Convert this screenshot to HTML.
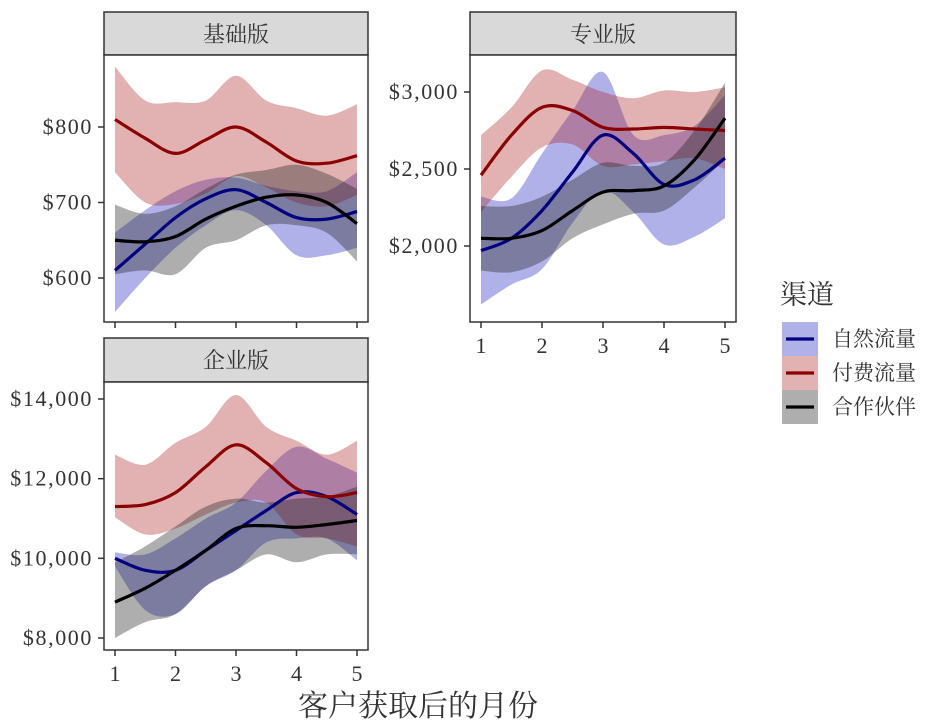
<!DOCTYPE html>
<html><head><meta charset="utf-8"><style>
body{margin:0;background:#fff;width:929px;height:726px;overflow:hidden}
svg{display:block}
text{font-family:"Liberation Serif","Noto Serif CJK SC","Noto Sans CJK SC",serif;fill:#333}
</style></head><body>
<svg id="chart" width="929" height="726" viewBox="0 0 929 726" xmlns="http://www.w3.org/2000/svg"></svg>
<script>
const months=[1,1.5,2,2.5,3,3.5,4,4.5,5];
const xTicks=[1,2,3,4,5];
const panelNames=["基础版","专业版","企业版"];
const seriesNames=["自然流量","付费流量","合作伙伴"];
// 基础版
const basicOrganic=[610,645,680,705,717,700,680,678,688];
const basicOrganicHi=[660,690,715,730,733,722,715,715,740];
const basicOrganicLo=[555,600,640,670,690,670,630,630,640];
const basicPaid=[810,785,765,783,800,780,755,752,762];
const basicPaidHi=[880,835,833,835,868,835,825,815,830];
const basicPaidLo=[740,700,698,712,735,720,700,695,710];
const basicPartner=[650,648,655,678,695,707,710,700,672];
const basicPartnerHi=[697,685,695,718,737,743,750,738,718];
const basicPartnerLo=[605,610,605,640,650,670,670,660,622];
// 专业版
const proOrganic=[1970,2050,2230,2480,2720,2600,2400,2430,2570];
const proOrganicHi=[2320,2310,2600,2880,3130,2720,2720,2780,2980];
const proOrganicLo=[1620,1750,1850,2150,2360,2220,2010,2060,2180];
const proPaid=[2460,2720,2900,2880,2770,2760,2770,2760,2750];
const proPaidHi=[2720,2900,3140,3080,3000,2960,3010,3000,3030];
const proPaidLo=[2220,2450,2640,2660,2520,2530,2550,2570,2500];
const proPartner=[2050,2050,2100,2230,2350,2360,2390,2560,2830];
const proPartnerHi=[2260,2260,2320,2430,2540,2520,2540,2750,3060];
const proPartnerLo=[1840,1830,1900,2050,2140,2210,2230,2380,2560];
// 企业版
const entOrganic=[10000,9700,9700,10200,10700,11200,11650,11550,11100];
const entOrganicHi=[10150,10100,10500,11000,11400,12200,12800,12500,12150];
const entOrganicLo=[9800,8700,8600,9300,9700,10400,10500,10500,9950];
const entPaid=[11300,11350,11650,12300,12850,12400,11750,11550,11650];
const entPaidHi=[12600,12350,12900,13300,14100,13300,12950,12600,12950];
const entPaidLo=[11030,10600,10750,11100,11400,11400,10600,10500,10300];
const entPartner=[8900,9250,9700,10200,10750,10820,10780,10850,10950];
const entPartnerHi=[9900,10300,10800,11300,11500,11400,11500,11550,11800];
const entPartnerLo=[8000,8400,8600,9300,9700,10100,9900,10100,10100];
const basicTicks=[600,700,800];
const proTicks=[2000,2500,3000];
const entTicks=[8000,10000,12000,14000];

const NS="http://www.w3.org/2000/svg";
const svg=document.getElementById('chart');
function mk(tag,attrs,parent){const e=document.createElementNS(NS,tag);for(const k in attrs)e.setAttribute(k,attrs[k]);(parent||svg).appendChild(e);return e;}
const fillCols=["rgba(50,50,200,0.38)","rgba(170,30,30,0.34)","rgba(30,30,30,0.36)"];
const lineCols=["#000080","#8b0000","#000000"];
function smooth(pts){let d="";for(let i=0;i<pts.length-1;i++){const p0=pts[Math.max(i-1,0)],p1=pts[i],p2=pts[i+1],p3=pts[Math.min(i+2,pts.length-1)];
const c1=[p1[0]+(p2[0]-p0[0])/6,p1[1]+(p2[1]-p0[1])/6],c2=[p2[0]-(p3[0]-p1[0])/6,p2[1]-(p3[1]-p1[1])/6];
d+=" C"+c1[0].toFixed(1)+","+c1[1].toFixed(1)+" "+c2[0].toFixed(1)+","+c2[1].toFixed(1)+" "+p2[0].toFixed(1)+","+p2[1].toFixed(1);}return d;}
function fmt(v){return "$"+v.toLocaleString("en-US");}

const panels=[
 {name:panelNames[0],x0:104,x1:368,sy:12,top:55,bot:322,vA:800,yA:127,vB:600,yB:278,ticks:basicTicks,xlab:false,
  s:[[basicOrganic,basicOrganicHi,basicOrganicLo],[basicPaid,basicPaidHi,basicPaidLo],[basicPartner,basicPartnerHi,basicPartnerLo]],key:"basic"},
 {name:panelNames[1],x0:470,x1:736,sy:12,top:55,bot:322,vA:3000,yA:92,vB:2000,yB:246,ticks:proTicks,xlab:true,
  s:[[proOrganic,proOrganicHi,proOrganicLo],[proPaid,proPaidHi,proPaidLo],[proPartner,proPartnerHi,proPartnerLo]],key:"pro"},
 {name:panelNames[2],x0:104,x1:368,sy:338,top:382,bot:650,vA:14000,yA:399,vB:8000,yB:638,ticks:entTicks,xlab:true,
  s:[[entOrganic,entOrganicHi,entOrganicLo],[entPaid,entPaidHi,entPaidLo],[entPartner,entPartnerHi,entPartnerLo]],key:"enterprise"}
];
panels.forEach(p=>{
 const g=mk('g',{});
 
 
 const xs=m=>p.x0+11+(m-1)*(p.x1-p.x0-22)/4;
 const ys=v=>p.yA+(v-p.vA)*(p.yB-p.yA)/(p.vB-p.vA);
 const strip=mk('rect',{x:p.x0,y:p.sy,width:p.x1-p.x0,height:p.top-p.sy,fill:"#d9d9d9",stroke:"#333","stroke-width":1.5},g);
 
 
 const st=mk('text',{x:(p.x0+p.x1)/2,y:p.sy+30,"text-anchor":"middle","font-size":22,fill:"#1a1a1a"},g);st.textContent=p.name;
 
 
 mk('rect',{x:p.x0,y:p.top,width:p.x1-p.x0,height:p.bot-p.top,fill:"#fff"},g);
 p.s.forEach((ser,i)=>{
  const hi=months.map((m,k)=>[xs(m),ys(ser[1][k])]);
  const lo=months.map((m,k)=>[xs(m),ys(ser[2][k])]).reverse();
  const band=mk('path',{d:"M"+hi[0][0]+","+hi[0][1]+smooth(hi)+" L"+lo[0][0]+","+lo[0][1]+smooth(lo)+"Z",fill:fillCols[i]},g);
  
  
 });
 p.s.forEach((ser,i)=>{
  const pts=months.map((m,k)=>[xs(m),ys(ser[0][k])]);
  const ln=mk('path',{d:"M"+pts[0][0]+","+pts[0][1]+smooth(pts),fill:"none",stroke:lineCols[i],"stroke-width":3.2},g);
  
  
 });
 mk('rect',{x:p.x0,y:p.top,width:p.x1-p.x0,height:p.bot-p.top,fill:"none",stroke:"#333","stroke-width":1.5},g);
 p.ticks.forEach(t=>{
  const y=ys(t);
  mk('line',{x1:p.x0-6,x2:p.x0,y1:y,y2:y,stroke:"#333","stroke-width":1.5},g);
  const tl=mk('text',{x:p.x0-11,y:y+7,"text-anchor":"end","font-size":22,"letter-spacing":"1.6"},g);tl.textContent=fmt(t);
  
  
 });
 xTicks.forEach(t=>{
  const x=xs(t);
  mk('line',{x1:x,x2:x,y1:p.bot,y2:p.bot+6,stroke:"#333","stroke-width":1.5},g);
  if(p.xlab){const tl=mk('text',{x:x,y:p.bot+31,"text-anchor":"middle","font-size":22},g);tl.textContent=t;
  
  }
 });
});
const xt=mk('text',{x:418,y:716,"text-anchor":"middle","font-size":30,fill:"#1a1a1a"});xt.textContent="客户获取后的月份";


const lg=mk('g',{});


const lt=mk('text',{x:780,y:304,"font-size":27,fill:"#1a1a1a"},lg);lt.textContent="渠道";


seriesNames.forEach((n,i)=>{
 const y=322+i*34;
 const e=mk('g',{},lg);
 
 
 mk('rect',{x:782,y:y,width:36,height:34,fill:fillCols[i]},e);
 mk('line',{x1:786,x2:814,y1:y+17,y2:y+17,stroke:lineCols[i],"stroke-width":3.2},e);
 const t=mk('text',{x:832,y:y+24,"font-size":21,fill:"#1a1a1a"},e);t.textContent=n;
});
</script>
</body></html>
